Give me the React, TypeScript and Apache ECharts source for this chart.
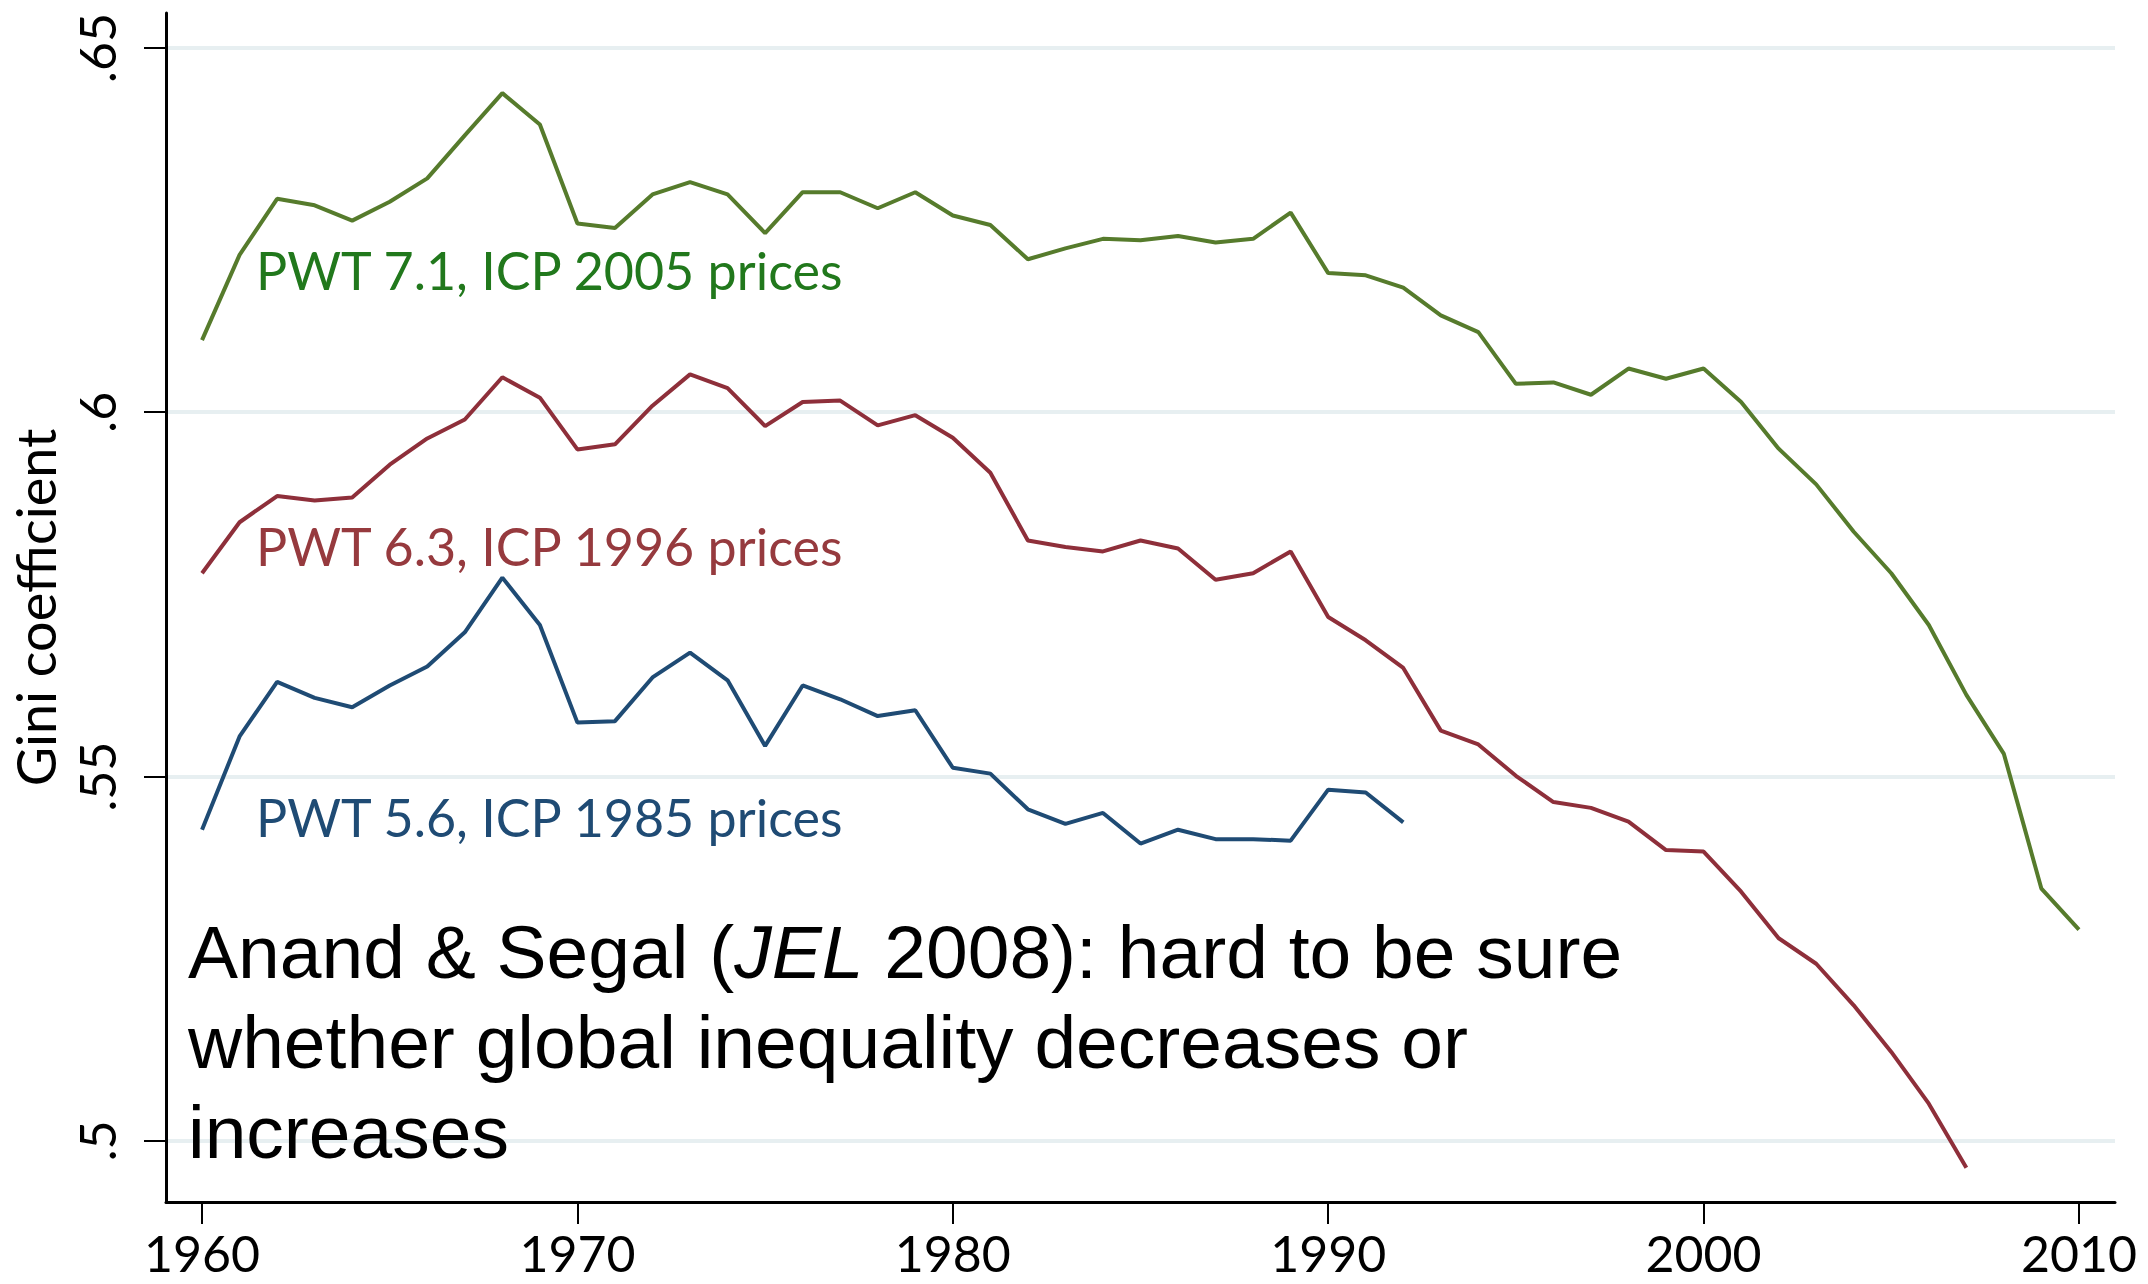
import React, { useEffect, useRef } from "react";
import * as echarts from "echarts";

const years71: number[] = [1960,1961,1962,1963,1964,1965,1966,1967,1968,1969,1970,1971,1972,1973,1974,1975,1976,1977,1978,1979,1980,1981,1982,1983,1984,1985,1986,1987,1988,1989,1990,1991,1992,1993,1994,1995,1996,1997,1998,1999,2000,2001,2002,2003,2004,2005,2006,2007,2008,2009,2010];
const pwt71: number[] = [0.6099,0.6216,0.6293,0.6284,0.6263,0.6289,0.6321,0.638,0.6438,0.6395,0.6259,0.6253,0.6299,0.6316,0.6299,0.6246,0.6302,0.6302,0.628,0.6302,0.627,0.6257,0.621,0.6225,0.6238,0.6236,0.6242,0.6233,0.6238,0.6274,0.6191,0.6188,0.6171,0.6133,0.611,0.6039,0.6041,0.6024,0.606,0.6046,0.606,0.6014,0.595,0.5901,0.5836,0.5779,0.5708,0.5612,0.5531,0.5346,0.529];

const years63: number[] = years71.slice(0, 48);
const pwt63: number[] = [0.5779,0.5849,0.5885,0.5879,0.5883,0.5928,0.5964,0.599,0.6048,0.602,0.5949,0.5956,0.6009,0.6052,0.6033,0.5981,0.6014,0.6016,0.5982,0.5996,0.5965,0.5917,0.5824,0.5815,0.5809,0.5824,0.5813,0.577,0.5779,0.5809,0.5719,0.5687,0.5649,0.5563,0.5544,0.5501,0.5465,0.5457,0.5438,0.5399,0.5397,0.5342,0.5278,0.5243,0.5186,0.5122,0.5051,0.4963];

const years56: number[] = years71.slice(0, 33);
const pwt56: number[] = [0.5427,0.5555,0.563,0.5608,0.5595,0.5625,0.5651,0.5698,0.5773,0.5708,0.5574,0.5576,0.5636,0.567,0.5632,0.5542,0.5625,0.5606,0.5583,0.5591,0.5512,0.5504,0.5455,0.5435,0.545,0.5408,0.5427,0.5414,0.5414,0.5412,0.5482,0.5478,0.5437];

const xTicks: number[] = [1960, 1970, 1980, 1990, 2000, 2010];
const yTicks: number[] = [0.5, 0.55, 0.6, 0.65];
const yTickLabels: string[] = [".5", ".55", ".6", ".65"];

const seriesNames: string[] = ["PWT 7.1, ICP 2005 prices", "PWT 6.3, ICP 1996 prices", "PWT 5.6, ICP 1985 prices"];
const lineColors: string[] = ["#567b2c", "#8e2f3a", "#1f4b74"];
const textColors: string[] = ["#21781c", "#963a3e", "#1f4b74"];

const FONT = "Lato, 'Noto Sans', sans-serif";

function pairs(xs: number[], ys: number[]) {
  return ys.map((v, i) => [xs[i], v]);
}

export default function App() {
  const ref = useRef<HTMLDivElement>(null);
  useEffect(() => {
    if (!ref.current) return;
    const chart = echarts.init(ref.current, null, { renderer: "svg" });
    const mkSeries = (name: string, data: number[][], color: string) => ({
      name,
      type: "line",
      data,
      showSymbol: false,
      symbol: "none",
      lineStyle: { color, width: 4 },
      z: 3,
    });
    chart.setOption({
      animation: false,
      backgroundColor: "#ffffff",
      grid: { left: 166, top: 13, right: 33, bottom: 82, containLabel: false },
      xAxis: {
        type: "value",
        min: 1959.04,
        max: 2010.96,
        axisLine: { show: true, lineStyle: { color: "#000", width: 3 } },
        axisTick: { show: true, length: 22, lineStyle: { color: "#000", width: 2 }, customValues: xTicks },
        axisLabel: {
          customValues: xTicks,
          margin: 26,
          color: "#000",
          fontFamily: FONT,
          fontSize: 50,
          lineHeight: 50,
          formatter: (v: number) => String(v),
        },
        splitLine: { show: false },
      },
      yAxis: {
        type: "value",
        min: 0.4916,
        max: 0.6548,
        name: "Gini coefficient",
        nameLocation: "middle",
        nameRotate: 90,
        nameGap: 104,
        nameTextStyle: { color: "#000", fontFamily: FONT, fontSize: 54 },
        axisLine: { show: true, lineStyle: { color: "#000", width: 3 } },
        axisTick: { show: true, length: 22, lineStyle: { color: "#000", width: 2 }, customValues: yTicks },
        axisLabel: {
          customValues: yTicks,
          rotate: 90,
          margin: 44,
          color: "#000",
          fontFamily: FONT,
          fontSize: 50,
          formatter: (v: number) => {
            const i = yTicks.findIndex((t) => Math.abs(t - v) < 1e-6);
            return i >= 0 ? yTickLabels[i] : "";
          },
        },
        splitLine: { show: true, lineStyle: { color: "#e7eff1", width: 4 } },
      },
      series: [
        mkSeries(seriesNames[0], pairs(years71, pwt71), lineColors[0]),
        mkSeries(seriesNames[1], pairs(years63, pwt63), lineColors[1]),
        mkSeries(seriesNames[2], pairs(years56, pwt56), lineColors[2]),
      ],
      graphic: [
        {
          type: "text",
          left: 256,
          top: 244,
          style: { text: seriesNames[0], fill: textColors[0], font: `52px ${FONT}` },
          z: 10,
        },
        {
          type: "text",
          left: 256,
          top: 520,
          style: { text: seriesNames[1], fill: textColors[1], font: `52px ${FONT}` },
          z: 10,
        },
        {
          type: "text",
          left: 256,
          top: 791,
          style: { text: seriesNames[2], fill: textColors[2], font: `52px ${FONT}` },
          z: 10,
        },
        {
          type: "text",
          left: 188,
          top: 914,
          style: {
            text: "{n|Anand & Segal (}{i|JEL}{n| 2008): hard to be sure}\n{n|whether global inequality decreases or}\n{n|increases}",
            fill: "#000",
            rich: {
              n: { fontFamily: "'Liberation Sans', Arial, sans-serif", fontSize: 75, lineHeight: 90, fill: "#000" },
              i: { fontFamily: "'Liberation Sans', Arial, sans-serif", fontSize: 75, lineHeight: 90, fontStyle: "italic", fill: "#000" },
            },
          },
          z: 10,
        },
      ],
    });
    return () => chart.dispose();
  }, []);
  return (
    <div
      ref={ref}
      style={{ position: "fixed", left: 0, top: 0, width: 2148, height: 1284, background: "#fff" }}
    />
  );
}
